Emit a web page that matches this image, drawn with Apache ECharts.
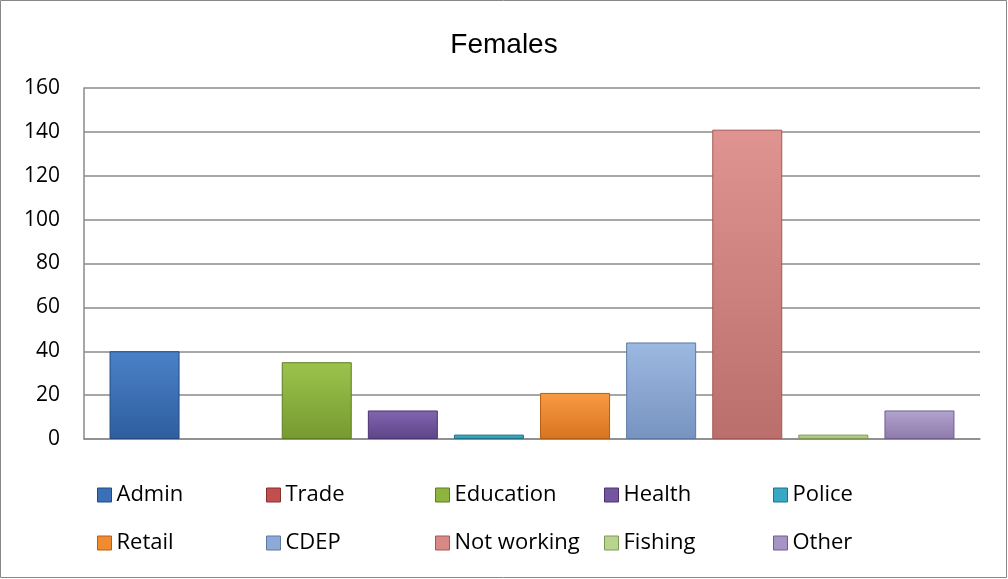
<!DOCTYPE html>
<html>
<head>
<meta charset="utf-8">
<script src="https://cdn.jsdelivr.net/npm/echarts@6/dist/echarts.min.js"></script>
<style>
html,body{margin:0;padding:0;background:#fff;}
#c{width:1008px;height:579px;}
</style>
</head>
<body>
<div id="c"></div>
<script>
var titleText = 'Females';
var categories = [''];
var seriesNames = ['Admin','Trade','Education','Health','Police','Retail','CDEP','Not working','Fishing','Other'];
var seriesValues = [40, 0, 35, 13, 2, 21, 44, 141, 2, 13];
var yTicks = [0, 20, 40, 60, 80, 100, 120, 140, 160];
var baseColors = ['#3A70B8','#C0504D','#8DB43E','#7355A0','#38A8C4','#F28A30','#8DAAD6','#D98886','#B9D48E','#A694C4'];
var lightColors = ['#4A82C8','#D2605D','#9CC34E','#8265B0','#4CBAD6','#F99A44','#9CB9E2','#E09492','#C6DE9E','#B3A3D0'];
var darkColors = ['#2E5E9E','#A2403D','#779A30','#5E4488','#2A8CA6','#D87420','#7793C0','#BB6F6D','#9DB874','#8D7BAA'];
var edgeColors = ['#234A82','#8A2F2C','#5E7D22','#4A3470','#1F7287','#B65E14','#5D78A3','#A45855','#7E9A52','#6F5E8E'];

var chart = echarts.init(document.getElementById('c'), null, {renderer:'canvas'});

var series = seriesNames.map(function(name, i){
  return {
    name: name,
    type: 'bar',
    data: [seriesValues[i]],
    barGap: '23%',
    barCategoryGap: '5.7%',
    itemStyle: {
      color: new echarts.graphic.LinearGradient(0,0,0,1,[
        {offset:0, color: lightColors[i]},
        {offset:1, color: darkColors[i]}
      ]),
      borderColor: edgeColors[i],
      borderWidth: seriesValues[i] > 0 ? 1 : 0
    },
    emphasis: {disabled: true}
  };
});

var legends = seriesNames.map(function(n, i){
  var col = i % 5, row = Math.floor(i / 5);
  return {
    data: [{name:n, itemStyle:{color: baseColors[i], borderColor: edgeColors[i], borderWidth:1}}],
    left: 92 + col * 169, top: 479 + row * 48,
    icon: 'rect', itemWidth: 14, itemHeight: 14, itemGap: 0,
    textStyle: {fontFamily:'Open Sans', fontSize:22, color:'#000'},
    selectedMode: false
  };
});

chart.setOption({
  animation: false,
  title: {
    text: titleText, left: 'center', top: 26,
    textStyle: {fontFamily:'Liberation Sans', fontSize: 28, fontWeight:'normal', color:'#000'}
  },
  grid: {left: 84, right: 28, top: 88, bottom: 140, containLabel: false},
  legend: legends,
  xAxis: {
    type: 'category', data: categories,
    axisLine: {show:true, lineStyle:{color:'#8a8a8a', width:1.5}},
    axisTick: {show:false}, axisLabel: {show:false}
  },
  yAxis: {
    type: 'value', min: yTicks[0], max: yTicks[yTicks.length-1], interval: yTicks[1]-yTicks[0],
    axisLine: {show:true, lineStyle:{color:'#8a8a8a', width:1.5}},
    axisTick: {show:false},
    axisLabel: {fontFamily:'Open Sans', fontSize:21, color:'#000', margin: 24},
    splitLine: {lineStyle:{color:'#8a8a8a', width:1.5}}
  },
  graphic: [{
    type:'rect', shape:{x:0.5, y:0.5, width:1006, height:577},
    style:{fill:'none', stroke:'#888', lineWidth:1}, silent:true
  }],
  series: series
});
</script>
</body>
</html>
